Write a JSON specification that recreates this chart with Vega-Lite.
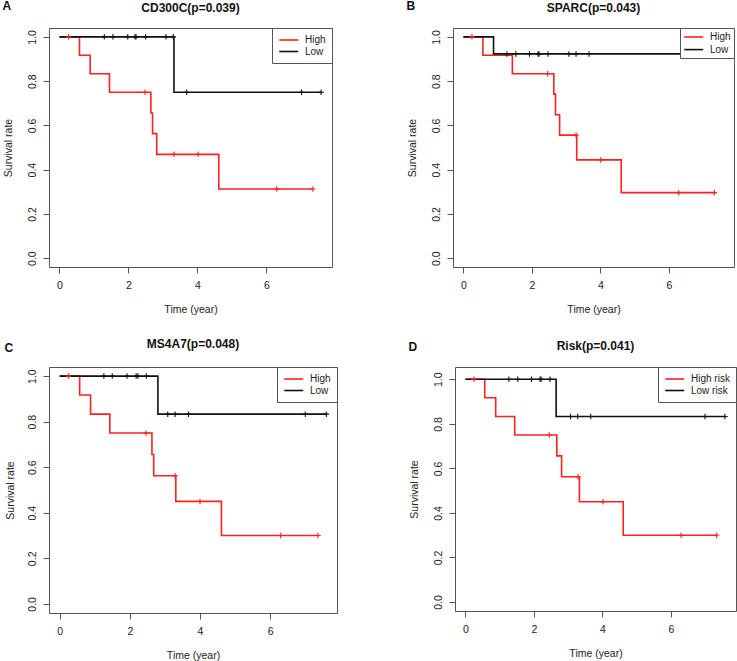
{
  "$schema": "https://vega.github.io/schema/vega-lite/v6.json",
  "background": "white",
  "padding": {"left": 2, "top": 0, "right": 0, "bottom": 0},
  "config": {
    "view": {"stroke": "#555", "strokeWidth": 1},
    "font": "Liberation Sans",
    "title": {"font": "Liberation Sans", "fontSize": 12, "fontWeight": "bold", "color": "#111"},
    "axis": {"domain": false, "grid": false, "tickColor": "#555", "tickSize": 6, "labelFont": "Liberation Sans", "labelFontSize": 10.5, "labelColor": "#222", "titleFont": "Liberation Sans", "titleFontSize": 10.5, "titleFontWeight": "normal", "titleColor": "#222"},
    "legend": {"orient": "top-right", "offset": 0, "title": null, "symbolType": "M-1,0H3", "symbolSize": 90, "symbolStrokeWidth": 1.6, "labelFont": "Liberation Sans", "labelFontSize": 10, "labelColor": "#222", "strokeColor": "#555", "fillColor": "white", "padding": 6, "rowPadding": 0.5, "labelOffset": 15, "cornerRadius": 0}
  },
  "resolve": {"scale": {"color": "independent"}, "legend": {"color": "independent"}},
  "datasets": {
    "A": [
      {"group": "High", "kind": "step", "time": 0, "surv": 1},
      {"group": "High", "kind": "step", "time": 0.58, "surv": 0.917},
      {"group": "High", "kind": "step", "time": 0.89, "surv": 0.833},
      {"group": "High", "kind": "step", "time": 1.45, "surv": 0.75},
      {"group": "High", "kind": "step", "time": 2.65, "surv": 0.656},
      {"group": "High", "kind": "step", "time": 2.7, "surv": 0.5625},
      {"group": "High", "kind": "step", "time": 2.82, "surv": 0.469},
      {"group": "High", "kind": "step", "time": 4.62, "surv": 0.3125},
      {"group": "High", "kind": "step", "time": 7.35, "surv": 0.3125},
      {"group": "High", "kind": "censor", "time": 0.26, "surv": 1},
      {"group": "High", "kind": "censor", "time": 2.48, "surv": 0.75},
      {"group": "High", "kind": "censor", "time": 3.32, "surv": 0.469},
      {"group": "High", "kind": "censor", "time": 4.02, "surv": 0.469},
      {"group": "High", "kind": "censor", "time": 6.3, "surv": 0.3125},
      {"group": "High", "kind": "censor", "time": 7.35, "surv": 0.3125},
      {"group": "Low", "kind": "step", "time": 0, "surv": 1},
      {"group": "Low", "kind": "step", "time": 3.32, "surv": 0.75},
      {"group": "Low", "kind": "step", "time": 7.59, "surv": 0.75},
      {"group": "Low", "kind": "censor", "time": 1.3, "surv": 1},
      {"group": "Low", "kind": "censor", "time": 1.55, "surv": 1},
      {"group": "Low", "kind": "censor", "time": 1.98, "surv": 1},
      {"group": "Low", "kind": "censor", "time": 2.19, "surv": 1},
      {"group": "Low", "kind": "censor", "time": 2.22, "surv": 1},
      {"group": "Low", "kind": "censor", "time": 2.5, "surv": 1},
      {"group": "Low", "kind": "censor", "time": 3.09, "surv": 1},
      {"group": "Low", "kind": "censor", "time": 3.3, "surv": 1},
      {"group": "Low", "kind": "censor", "time": 3.69, "surv": 0.75},
      {"group": "Low", "kind": "censor", "time": 7.02, "surv": 0.75},
      {"group": "Low", "kind": "censor", "time": 7.59, "surv": 0.75}
    ],
    "B": [
      {"group": "High", "kind": "step", "time": 0, "surv": 1},
      {"group": "High", "kind": "step", "time": 0.57, "surv": 0.917},
      {"group": "High", "kind": "step", "time": 1.43, "surv": 0.833},
      {"group": "High", "kind": "step", "time": 2.64, "surv": 0.741},
      {"group": "High", "kind": "step", "time": 2.69, "surv": 0.648},
      {"group": "High", "kind": "step", "time": 2.81, "surv": 0.556},
      {"group": "High", "kind": "step", "time": 3.31, "surv": 0.444},
      {"group": "High", "kind": "step", "time": 4.61, "surv": 0.296},
      {"group": "High", "kind": "step", "time": 7.33, "surv": 0.296},
      {"group": "High", "kind": "censor", "time": 0.25, "surv": 1},
      {"group": "High", "kind": "censor", "time": 2.46, "surv": 0.833},
      {"group": "High", "kind": "censor", "time": 3.29, "surv": 0.556},
      {"group": "High", "kind": "censor", "time": 4.01, "surv": 0.444},
      {"group": "High", "kind": "censor", "time": 6.29, "surv": 0.296},
      {"group": "High", "kind": "censor", "time": 7.33, "surv": 0.296},
      {"group": "Low", "kind": "step", "time": 0, "surv": 1},
      {"group": "Low", "kind": "step", "time": 0.88, "surv": 0.923},
      {"group": "Low", "kind": "step", "time": 7.58, "surv": 0.923},
      {"group": "Low", "kind": "censor", "time": 1.27, "surv": 0.923},
      {"group": "Low", "kind": "censor", "time": 1.53, "surv": 0.923},
      {"group": "Low", "kind": "censor", "time": 1.93, "surv": 0.923},
      {"group": "Low", "kind": "censor", "time": 2.18, "surv": 0.923},
      {"group": "Low", "kind": "censor", "time": 2.21, "surv": 0.923},
      {"group": "Low", "kind": "censor", "time": 2.47, "surv": 0.923},
      {"group": "Low", "kind": "censor", "time": 3.08, "surv": 0.923},
      {"group": "Low", "kind": "censor", "time": 3.29, "surv": 0.923},
      {"group": "Low", "kind": "censor", "time": 3.67, "surv": 0.923},
      {"group": "Low", "kind": "censor", "time": 7.0, "surv": 0.923},
      {"group": "Low", "kind": "censor", "time": 7.58, "surv": 0.923}
    ],
    "C": [
      {"group": "High", "kind": "step", "time": 0, "surv": 1},
      {"group": "High", "kind": "step", "time": 0.57, "surv": 0.917},
      {"group": "High", "kind": "step", "time": 0.88, "surv": 0.833},
      {"group": "High", "kind": "step", "time": 1.43, "surv": 0.75},
      {"group": "High", "kind": "step", "time": 2.63, "surv": 0.656},
      {"group": "High", "kind": "step", "time": 2.68, "surv": 0.5625},
      {"group": "High", "kind": "step", "time": 3.31, "surv": 0.45},
      {"group": "High", "kind": "step", "time": 4.61, "surv": 0.3},
      {"group": "High", "kind": "step", "time": 7.36, "surv": 0.3},
      {"group": "High", "kind": "censor", "time": 0.25, "surv": 1},
      {"group": "High", "kind": "censor", "time": 2.46, "surv": 0.75},
      {"group": "High", "kind": "censor", "time": 3.29, "surv": 0.5625},
      {"group": "High", "kind": "censor", "time": 4.0, "surv": 0.45},
      {"group": "High", "kind": "censor", "time": 6.3, "surv": 0.3},
      {"group": "High", "kind": "censor", "time": 7.36, "surv": 0.3},
      {"group": "Low", "kind": "step", "time": 0, "surv": 1},
      {"group": "Low", "kind": "step", "time": 2.8, "surv": 0.833},
      {"group": "Low", "kind": "step", "time": 7.6, "surv": 0.833},
      {"group": "Low", "kind": "censor", "time": 1.26, "surv": 1},
      {"group": "Low", "kind": "censor", "time": 1.5, "surv": 1},
      {"group": "Low", "kind": "censor", "time": 1.92, "surv": 1},
      {"group": "Low", "kind": "censor", "time": 2.18, "surv": 1},
      {"group": "Low", "kind": "censor", "time": 2.23, "surv": 1},
      {"group": "Low", "kind": "censor", "time": 2.47, "surv": 1},
      {"group": "Low", "kind": "censor", "time": 3.08, "surv": 0.833},
      {"group": "Low", "kind": "censor", "time": 3.29, "surv": 0.833},
      {"group": "Low", "kind": "censor", "time": 3.67, "surv": 0.833},
      {"group": "Low", "kind": "censor", "time": 7.0, "surv": 0.833},
      {"group": "Low", "kind": "censor", "time": 7.6, "surv": 0.833}
    ],
    "D": [
      {"group": "High risk", "kind": "step", "time": 0, "surv": 1},
      {"group": "High risk", "kind": "step", "time": 0.565, "surv": 0.917},
      {"group": "High risk", "kind": "step", "time": 0.885, "surv": 0.833},
      {"group": "High risk", "kind": "step", "time": 1.44, "surv": 0.75},
      {"group": "High risk", "kind": "step", "time": 2.67, "surv": 0.656},
      {"group": "High risk", "kind": "step", "time": 2.81, "surv": 0.5625},
      {"group": "High risk", "kind": "step", "time": 3.33, "surv": 0.45},
      {"group": "High risk", "kind": "step", "time": 4.61, "surv": 0.3},
      {"group": "High risk", "kind": "step", "time": 7.34, "surv": 0.3},
      {"group": "High risk", "kind": "censor", "time": 0.25, "surv": 1},
      {"group": "High risk", "kind": "censor", "time": 2.45, "surv": 0.75},
      {"group": "High risk", "kind": "censor", "time": 3.29, "surv": 0.5625},
      {"group": "High risk", "kind": "censor", "time": 4.02, "surv": 0.45},
      {"group": "High risk", "kind": "censor", "time": 6.3, "surv": 0.3},
      {"group": "High risk", "kind": "censor", "time": 7.34, "surv": 0.3},
      {"group": "Low risk", "kind": "step", "time": 0, "surv": 1},
      {"group": "Low risk", "kind": "step", "time": 2.65, "surv": 0.833},
      {"group": "Low risk", "kind": "step", "time": 7.58, "surv": 0.833},
      {"group": "Low risk", "kind": "censor", "time": 1.27, "surv": 1},
      {"group": "Low risk", "kind": "censor", "time": 1.53, "surv": 1},
      {"group": "Low risk", "kind": "censor", "time": 1.93, "surv": 1},
      {"group": "Low risk", "kind": "censor", "time": 2.18, "surv": 1},
      {"group": "Low risk", "kind": "censor", "time": 2.21, "surv": 1},
      {"group": "Low risk", "kind": "censor", "time": 2.47, "surv": 1},
      {"group": "Low risk", "kind": "censor", "time": 3.07, "surv": 0.833},
      {"group": "Low risk", "kind": "censor", "time": 3.28, "surv": 0.833},
      {"group": "Low risk", "kind": "censor", "time": 3.66, "surv": 0.833},
      {"group": "Low risk", "kind": "censor", "time": 7.0, "surv": 0.833},
      {"group": "Low risk", "kind": "censor", "time": 7.58, "surv": 0.833}
    ]
  },
  "spacing": 21,
  "vconcat": [
    {
      "spacing": 73,
      "resolve": {"scale": {"color": "independent"}, "legend": {"color": "independent"}},
      "hconcat": [
        {
          "title": {"text": "A", "anchor": "start", "frame": "bounds", "offset": -12},
          "resolve": {"scale": {"color": "independent"}, "legend": {"color": "independent"}},
          "vconcat": [{
            "title": {"text": "CD300C(p=0.039)", "offset": 13},
            "width": 283, "height": 239,
            "data": {"name": "A"},
            "encoding": {
              "x": {"field": "time", "type": "quantitative", "scale": {"domain": [-0.304, 7.904], "nice": false, "zero": false}, "axis": {"values": [0, 2, 4, 6], "title": "Time (year)", "labelPadding": 7, "titlePadding": 14}},
              "y": {"field": "surv", "type": "quantitative", "scale": {"domain": [-0.04, 1.04], "nice": false, "zero": false}, "axis": {"values": [0, 0.2, 0.4, 0.6, 0.8, 1], "format": ".1f", "labelAngle": 270, "labelAlign": "center", "labelBaseline": "alphabetic", "labelPadding": 8, "title": "Survival rate", "titlePadding": 14}},
              "color": {"field": "group", "type": "nominal", "scale": {"domain": ["High", "Low"], "range": ["#ff2020", "#111111"]}}
            },
            "layer": [
              {"transform": [{"filter": "datum.kind === 'step'"}], "mark": {"type": "line", "interpolate": "step-after", "strokeWidth": 1.6}},
              {"transform": [{"filter": "datum.kind === 'censor'"}], "mark": {"type": "point", "shape": "M-1,0H1M0,-1V1", "filled": false, "size": 30, "strokeWidth": 1.1, "opacity": 1}}
            ]
          }]
        },
        {
          "title": {"text": "B", "anchor": "start", "frame": "bounds", "offset": -12},
          "resolve": {"scale": {"color": "independent"}, "legend": {"color": "independent"}},
          "vconcat": [{
            "title": {"text": "SPARC(p=0.043)", "offset": 13},
            "width": 281, "height": 239,
            "data": {"name": "B"},
            "encoding": {
              "x": {"field": "time", "type": "quantitative", "scale": {"domain": [-0.304, 7.904], "nice": false, "zero": false}, "axis": {"values": [0, 2, 4, 6], "title": "Time (year)", "labelPadding": 7, "titlePadding": 14}},
              "y": {"field": "surv", "type": "quantitative", "scale": {"domain": [-0.04, 1.04], "nice": false, "zero": false}, "axis": {"values": [0, 0.2, 0.4, 0.6, 0.8, 1], "format": ".1f", "labelAngle": 270, "labelAlign": "center", "labelBaseline": "alphabetic", "labelPadding": 8, "title": "Survival rate", "titlePadding": 14}},
              "color": {"field": "group", "type": "nominal", "scale": {"domain": ["High", "Low"], "range": ["#ff2020", "#111111"]}, "legend": {"padding": 3, "rowPadding": 1.6}}
            },
            "layer": [
              {"transform": [{"filter": "datum.kind === 'step'"}], "mark": {"type": "line", "interpolate": "step-after", "strokeWidth": 1.6}},
              {"transform": [{"filter": "datum.kind === 'censor'"}], "mark": {"type": "point", "shape": "M-1,0H1M0,-1V1", "filled": false, "size": 30, "strokeWidth": 1.1, "opacity": 1}}
            ]
          }]
        }
      ]
    },
    {
      "spacing": 70,
      "resolve": {"scale": {"color": "independent"}, "legend": {"color": "independent"}},
      "hconcat": [
        {
          "title": {"text": "C", "anchor": "start", "frame": "bounds", "offset": -17, "dy": 1},
          "resolve": {"scale": {"color": "independent"}, "legend": {"color": "independent"}},
          "vconcat": [{
            "title": {"text": "MS4A7(p=0.048)", "offset": 16},
            "width": 288, "height": 246,
            "data": {"name": "C"},
            "encoding": {
              "x": {"field": "time", "type": "quantitative", "scale": {"domain": [-0.304, 7.904], "nice": false, "zero": false}, "axis": {"values": [0, 2, 4, 6], "title": "Time (year)", "labelPadding": 7, "titlePadding": 14}},
              "y": {"field": "surv", "type": "quantitative", "scale": {"domain": [-0.04, 1.04], "nice": false, "zero": false}, "axis": {"values": [0, 0.2, 0.4, 0.6, 0.8, 1], "format": ".1f", "labelAngle": 270, "labelAlign": "center", "labelBaseline": "alphabetic", "labelPadding": 8, "title": "Survival rate", "titlePadding": 12}},
              "color": {"field": "group", "type": "nominal", "scale": {"domain": ["High", "Low"], "range": ["#ff2020", "#111111"]}}
            },
            "layer": [
              {"transform": [{"filter": "datum.kind === 'step'"}], "mark": {"type": "line", "interpolate": "step-after", "strokeWidth": 1.6}},
              {"transform": [{"filter": "datum.kind === 'censor'"}], "mark": {"type": "point", "shape": "M-1,0H1M0,-1V1", "filled": false, "size": 30, "strokeWidth": 1.1, "opacity": 1}}
            ]
          }]
        },
        {
          "title": {"text": "D", "anchor": "start", "frame": "bounds", "offset": -13.6, "dy": 1},
          "resolve": {"scale": {"color": "independent"}, "legend": {"color": "independent"}},
          "vconcat": [{
            "title": {"text": "Risk(p=0.041)", "offset": 14},
            "width": 281, "height": 244,
            "data": {"name": "D"},
            "encoding": {
              "x": {"field": "time", "type": "quantitative", "scale": {"domain": [-0.304, 7.904], "nice": false, "zero": false}, "axis": {"values": [0, 2, 4, 6], "title": "Time (year)", "labelPadding": 7, "titlePadding": 14}},
              "y": {"field": "surv", "type": "quantitative", "scale": {"domain": [-0.0404, 1.0552], "nice": false, "zero": false}, "axis": {"values": [0, 0.2, 0.4, 0.6, 0.8, 1], "format": ".1f", "labelAngle": 270, "labelAlign": "center", "labelBaseline": "alphabetic", "labelPadding": 8, "title": "Survival rate", "titlePadding": 14}},
              "color": {"field": "group", "type": "nominal", "scale": {"domain": ["High risk", "Low risk"], "range": ["#ff2020", "#111111"]}}
            },
            "layer": [
              {"transform": [{"filter": "datum.kind === 'step'"}], "mark": {"type": "line", "interpolate": "step-after", "strokeWidth": 1.6}},
              {"transform": [{"filter": "datum.kind === 'censor'"}], "mark": {"type": "point", "shape": "M-1,0H1M0,-1V1", "filled": false, "size": 30, "strokeWidth": 1.1, "opacity": 1}}
            ]
          }]
        }
      ]
    }
  ]
}
